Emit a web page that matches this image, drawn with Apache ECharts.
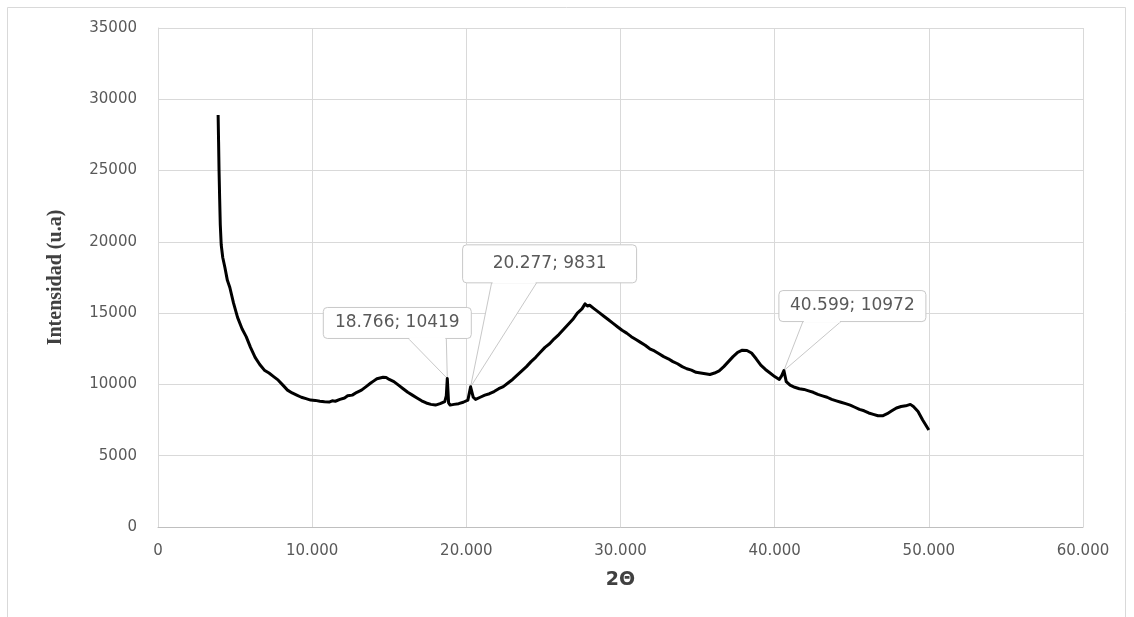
<!DOCTYPE html>
<html><head><meta charset="utf-8">
<script src="https://cdn.jsdelivr.net/npm/echarts@6/dist/echarts.min.js"></script>
<style>html,body{margin:0;padding:0;background:#fff}#c{width:1134px;height:617px}</style>
</head><body><div id="c"></div>
<script>
// 2Θ (degrees) and intensity (u.a.)
const twoTheta = [3.9,3.93,3.96,4.0,4.04,4.1,4.2,4.34,4.5,4.66,4.9,5.16,5.45,5.72,6.0,6.3,6.6,6.9,7.2,7.5,7.8,8.1,8.4,8.7,9.0,9.3,9.6,9.9,10.2,10.5,10.8,11.1,11.3,11.5,11.8,12.1,12.3,12.6,12.9,13.2,13.5,13.8,14.0,14.2,14.4,14.6,14.8,15.0,15.3,15.6,15.9,16.2,16.5,16.8,17.1,17.4,17.7,18.0,18.3,18.6,18.7,18.766,18.85,18.95,19.2,19.5,19.8,20.1,20.277,20.45,20.6,20.9,21.2,21.5,21.8,22.1,22.4,22.7,23.0,23.3,23.6,23.9,24.2,24.5,24.8,25.1,25.4,25.7,26.0,26.3,26.6,26.9,27.2,27.5,27.7,27.85,28.0,28.3,28.6,28.9,29.2,29.5,29.8,30.1,30.4,30.7,31.0,31.3,31.6,31.9,32.2,32.5,32.8,33.1,33.4,33.7,34.0,34.3,34.6,34.9,35.2,35.5,35.8,36.1,36.4,36.7,37.0,37.3,37.6,37.9,38.2,38.5,38.8,39.1,39.4,39.7,40.0,40.3,40.45,40.599,40.75,41.0,41.3,41.6,41.9,42.2,42.5,42.8,43.1,43.4,43.7,44.0,44.3,44.6,44.9,45.2,45.5,45.8,46.1,46.4,46.7,47.0,47.3,47.6,47.9,48.2,48.5,48.8,49.0,49.3,49.6,50.0];
const intensity = [28900,27000,25000,23000,21200,19800,18900,18200,17300,16800,15700,14700,13900,13350,12600,11900,11400,11000,10800,10550,10300,9950,9600,9400,9250,9100,9000,8900,8880,8820,8780,8760,8850,8820,8950,9050,9200,9250,9450,9600,9850,10100,10250,10400,10450,10500,10480,10350,10200,9950,9700,9450,9250,9050,8850,8700,8600,8550,8650,8800,9200,10419,8700,8550,8600,8650,8750,8900,9831,9100,8950,9100,9250,9350,9500,9700,9850,10100,10350,10650,10950,11250,11600,11900,12250,12600,12850,13200,13500,13850,14200,14550,15000,15300,15650,15500,15550,15300,15050,14800,14550,14300,14050,13800,13600,13350,13150,12950,12750,12500,12350,12150,11950,11800,11600,11450,11250,11100,11000,10850,10800,10750,10700,10800,10950,11250,11600,11950,12250,12400,12380,12200,11800,11350,11050,10800,10550,10350,10600,10972,10200,9950,9800,9700,9650,9550,9450,9300,9200,9100,8950,8850,8750,8650,8550,8400,8250,8150,8000,7900,7800,7800,7950,8150,8350,8450,8500,8600,8450,8100,7500,6800];
// annotated peaks
const peakX = [18.766, 20.277, 40.599];
const peakY = [10419, 9831, 10972];
// axis settings
const xMin = 0, xMax = 60, xStep = 10;
const yMin = 0, yMax = 35000, yStep = 5000;
const xTitle = '2Θ';
const yTitle = 'Intensidad (u.a)';

const chart = echarts.init(document.getElementById('c'));
const grey = '#595959';
chart.setOption({
  animation: false,
  backgroundColor: '#fff',
  grid: { left: 158, right: 51, top: 28, bottom: 90 },
  xAxis: {
    type: 'value', min: xMin, max: xMax, interval: xStep,
    name: xTitle, nameLocation: 'middle', nameGap: 44,
    nameTextStyle: { fontFamily: 'DejaVu Sans', fontWeight: 'bold', fontSize: 19, color: '#404040' },
    axisLine: { show: true, lineStyle: { color: '#bfbfbf', width: 1 } },
    axisTick: { show: false },
    axisLabel: { margin: 17, color: grey, fontFamily: 'DejaVu Sans', fontSize: 15,
      formatter: v => v === 0 ? '0' : v.toFixed(3) },
    splitLine: { show: true, lineStyle: { color: '#d9d9d9', width: 1 } }
  },
  yAxis: {
    type: 'value', min: yMin, max: yMax, interval: yStep,
    name: yTitle, nameLocation: 'middle', nameGap: 92, nameRotate: 90,
    nameTextStyle: { fontFamily: 'Liberation Serif', fontWeight: 'bold', fontSize: 20, color: '#404040' },
    axisLine: { show: true, lineStyle: { color: '#d9d9d9', width: 1 } },
    axisTick: { show: false },
    axisLabel: { margin: 21, color: grey, fontFamily: 'DejaVu Sans', fontSize: 15,
      formatter: v => String(v) },
    splitLine: { show: true, lineStyle: { color: '#d9d9d9', width: 1 } }
  },
  series: [{
    type: 'line', showSymbol: false, symbol: 'none',
    data: twoTheta.map((x, i) => [x, intensity[i]]),
    lineStyle: { color: '#000', width: 3, join: 'round' },
    z: 3
  }]
});

// callout layout (offsets relative to the annotated point)
const callouts = [
  { left: -124, top: -71, w: 148, h: 31, t1: -39, t2: -1 },
  { left: -8, top: -142, w: 174, h: 38, t1: 21, t2: 66 },
  { left: -5, top: -80, w: 147, h: 31, t1: 19, t2: 57 }
];
const elements = [{
  type: 'rect', shape: { x: 7.5, y: 7.5, width: 1118, height: 640 },
  style: { fill: 'none', stroke: '#d9d9d9', lineWidth: 1 }, silent: true, z: 0
}];
peakX.forEach((x, i) => {
  const [px, py] = chart.convertToPixel({ gridIndex: 0 }, [x, peakY[i]]);
  const c = callouts[i];
  const L = px + c.left, T = py + c.top, B = T + c.h;
  elements.push({ type: 'polygon', z: 1, shape: { points: [[px + c.t1, B], [px, py], [px + c.t2, B]] },
    style: { fill: '#fff', stroke: '#c8c8c8', lineWidth: 1 } });
  elements.push({ type: 'rect', z: 1, shape: { x: L, y: T, width: c.w, height: c.h, r: 4 },
    style: { fill: '#fff', stroke: '#c8c8c8', lineWidth: 1 } });
  elements.push({ type: 'line', z: 1, shape: { x1: px + c.t1 + 1, y1: B, x2: px + c.t2 - 1, y2: B },
    style: { stroke: '#fff', lineWidth: 2 } });
  elements.push({ type: 'text', z: 1, style: { x: L + c.w / 2, y: T + c.h / 2, text: x.toFixed(3) + '; ' + peakY[i],
    fill: grey, font: '17px "DejaVu Sans"', align: 'center', verticalAlign: 'middle' } });
});
chart.setOption({ graphic: { elements } });
</script></body></html>
